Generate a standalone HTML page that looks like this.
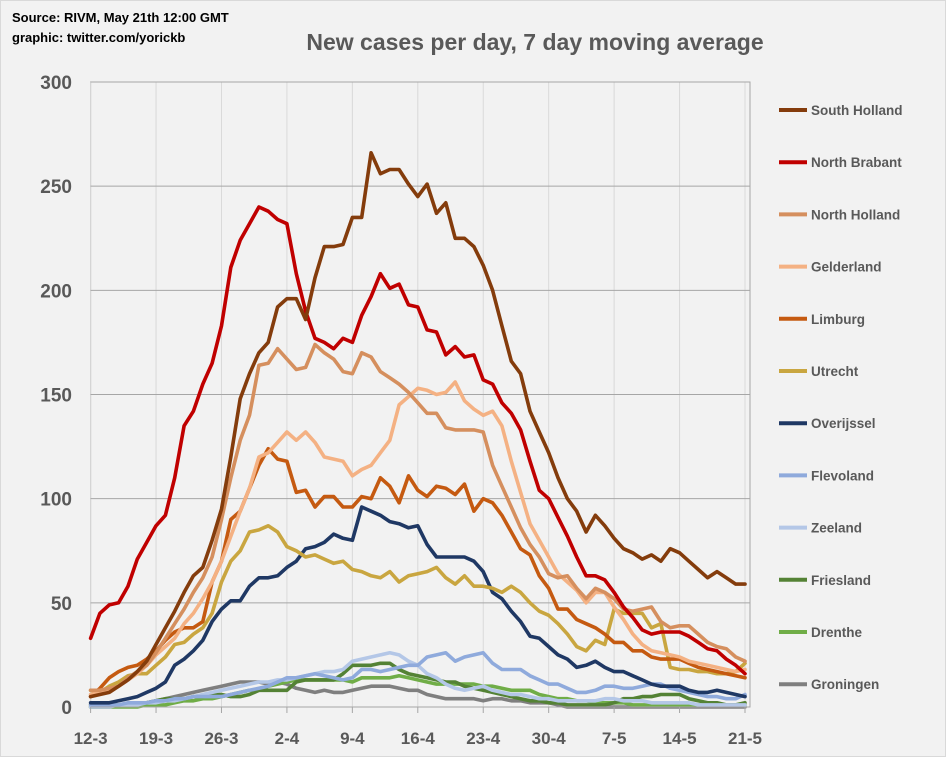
<!DOCTYPE html>
<html><head><meta charset="utf-8"><style>
html,body{margin:0;padding:0;background:#f2f2f2;}
svg{display:block;font-family:"Liberation Sans",sans-serif;}
</style></head><body>
<svg id="chart" width="946" height="757" viewBox="0 0 946 757">
<rect x="0.5" y="0.5" width="945" height="756" fill="#f2f2f2" stroke="#d9d9d9"/>
<text x="12" y="22" font-size="13" font-weight="bold" fill="#000">Source: RIVM, May 21th 12:00  GMT</text>
<text x="12" y="42" font-size="13" font-weight="bold" fill="#000">graphic: twitter.com/yorickb</text>
<text x="535" y="50" font-size="23" font-weight="bold" fill="#595959" text-anchor="middle">New cases per day, 7 day moving average</text>
<g id="grid"></g><g id="series"></g><g id="axes"></g><g id="legend"></g>
</svg>
<script>
const dates=["12-3","19-3","26-3","2-4","9-4","16-4","23-4","30-4","7-5","14-5","21-5"];
const yTicks=[0,50,100,150,200,250,300];
const names=["South Holland","North Brabant","North Holland","Gelderland","Limburg","Utrecht","Overijssel","Flevoland","Zeeland","Friesland","Drenthe","Groningen"];
const colors=["#843c0c","#c00000","#d58f5e","#f4b183","#c55a11","#c9a640","#1f3864","#8faadc","#b4c7e7","#548235","#70ad47","#7f7f7f"];
const southHolland=[5,6,7,10,13,17,22,30,38,46,55,63,67,80,95,120,148,160,170,175,192,196,196,186,206,221,221,222,235,235,266,256,258,258,251,245,251,237,242,225,225,221,212,200,183,166,160,142,132,122,110,100,94,84,92,87,81,76,74,71,73,70,76,74,70,66,62,65,62,59,59];
const northBrabant=[33,45,49,50,58,71,79,87,92,110,135,142,155,165,183,211,224,232,240,238,234,232,208,190,177,175,172,177,175,188,197,208,201,203,193,192,181,180,169,173,168,169,157,155,146,141,133,118,104,100,91,82,72,63,63,61,55,48,43,37,35,36,36,36,34,31,28,27,23,20,16];
const northHolland=[8,8,9,10,14,17,20,26,33,40,47,55,62,72,90,110,128,140,164,165,172,167,162,163,174,170,167,161,160,170,168,161,158,155,151,146,141,141,134,133,133,133,132,116,106,96,86,78,72,64,62,63,57,52,57,55,52,47,46,47,48,41,38,39,39,35,31,29,28,24,22];
const gelderland=[6,7,8,10,13,16,20,25,29,33,40,45,52,60,70,82,94,105,120,122,127,132,128,132,127,120,119,118,111,114,116,122,128,145,149,153,152,150,151,156,147,143,140,142,135,118,103,88,80,72,64,60,56,50,55,55,48,42,35,30,27,26,25,24,22,21,20,19,18,17,18];
const limburg=[5,9,14,17,19,20,23,27,32,36,38,38,41,60,70,90,94,105,116,124,119,118,103,104,96,101,101,96,96,101,100,110,106,98,111,104,101,106,105,102,107,94,100,98,92,84,76,73,63,57,47,47,42,40,38,35,31,31,27,27,24,23,23,23,21,19,18,17,16,15,14];
const utrecht=[8,7,10,12,15,16,16,20,24,30,31,35,38,45,60,70,75,84,85,87,84,77,75,72,73,71,69,70,66,65,63,62,65,60,63,64,65,67,62,59,63,58,58,57,55,58,55,50,46,44,40,35,29,27,32,30,47,45,45,45,38,40,19,18,18,17,17,16,16,17,21];
const overijssel=[2,2,2,3,4,5,7,9,12,20,23,27,32,41,47,51,51,58,62,62,63,67,70,76,77,79,83,81,80,96,94,92,89,88,86,87,78,72,72,72,72,70,65,55,52,46,41,34,33,29,25,23,19,20,22,19,17,17,15,13,11,10,10,10,8,7,7,8,7,6,5];
const flevoland=[1,1,1,1,2,2,2,3,3,4,4,5,5,5,5,6,7,8,9,10,12,14,14,15,16,15,14,13,14,18,18,17,18,19,20,20,24,25,26,22,24,25,26,21,18,18,18,15,13,11,11,9,7,7,8,10,10,9,9,10,11,11,9,8,7,6,5,5,4,4,6];
const zeeland=[0,0,0,1,1,1,2,2,3,3,4,5,6,7,8,9,10,11,12,12,13,13,14,15,16,17,17,18,22,23,24,25,26,25,22,20,16,14,11,9,8,9,10,8,7,6,6,5,4,4,3,3,3,3,3,4,4,3,3,3,2,2,2,2,2,1,1,1,1,1,1];
const friesland=[1,1,1,1,1,2,2,3,4,4,4,5,5,6,6,5,5,6,8,8,8,8,12,13,13,13,13,16,20,20,20,21,21,18,16,15,14,13,12,12,10,9,8,7,6,5,4,3,3,2,2,1,1,1,1,1,2,4,4,5,5,6,6,6,4,3,2,2,1,1,2];
const drenthe=[0,0,0,0,0,0,1,1,1,2,3,3,4,4,5,6,7,8,8,10,11,12,13,13,13,13,13,13,12,14,14,14,14,15,14,13,12,11,11,11,11,11,10,10,9,8,8,8,6,5,4,4,3,3,2,2,2,2,1,1,1,1,1,1,1,1,1,1,1,1,1];
const groningen=[0,0,0,1,1,2,2,3,4,5,6,7,8,9,10,11,12,12,12,11,12,11,9,8,7,8,7,7,8,9,10,10,10,9,8,8,6,5,4,4,4,4,3,4,4,3,3,2,2,2,1,0,0,0,0,0,0,0,0,0,0,0,0,0,0,0,0,0,0,0,0];
const seriesData=[southHolland,northBrabant,northHolland,gelderland,limburg,utrecht,overijssel,flevoland,zeeland,friesland,drenthe,groningen];

const NS="http://www.w3.org/2000/svg";
const X0=90.6,X1=745,XR=750,Y0=707,YT=82,NDAYS=70,YMAX=300;
const xs=d=>X0+(X1-X0)*d/NDAYS;
const ys=v=>Y0-(Y0-YT)*v/YMAX;
function mk(tag,attrs,parent){const e=document.createElementNS(NS,tag);for(const k in attrs)e.setAttribute(k,attrs[k]);parent.appendChild(e);return e;}
const grid=document.getElementById('grid'),axes=document.getElementById('axes'),ser=document.getElementById('series'),leg=document.getElementById('legend');
mk('rect',{x:X0,y:YT,width:XR-X0,height:Y0-YT,fill:'#f2f2f2',stroke:'#a6a6a6'},grid);
dates.forEach((t,i)=>{const x=xs(i*7);
 const g=mk('line',{x1:x,x2:x,y1:YT,y2:Y0,stroke:'#d9d9d9','stroke-width':1},grid);
 
 
 const tk=mk('line',{x1:x,x2:x,y1:Y0,y2:Y0+6,stroke:'#a6a6a6'},axes);
 
 
 const tx=mk('text',{x:x,y:744,'font-size':17,'font-weight':'bold',fill:'#595959','text-anchor':'middle'},axes);
 tx.textContent=t;
 
 
});
yTicks.forEach(v=>{const y=ys(v);
 const g=mk('line',{x1:X0,x2:XR,y1:y,y2:y,stroke:'#a6a6a6','stroke-width':1},grid);
 
 
 const tx=mk('text',{x:72,y:y+7,'font-size':19,'font-weight':'bold',fill:'#595959','text-anchor':'end'},axes);
 tx.textContent=v;
 
 
});
mk('line',{x1:X0,x2:XR,y1:Y0,y2:Y0,stroke:'#a6a6a6'},axes);
for(let i=seriesData.length-1;i>=0;i--){
 const pts=seriesData[i].map((v,d)=>xs(d).toFixed(1)+','+ys(v).toFixed(1)).join(' ');
 const p=mk('polyline',{points:pts,fill:'none',stroke:colors[i],'stroke-width':3.6,'stroke-linejoin':'round','stroke-linecap':'round'},ser);
 
 
}
names.forEach((n,i)=>{const y=110+52.2*i;
 const g=mk('g',{},leg);
 
 
 mk('line',{x1:779,x2:807,y1:y,y2:y,stroke:colors[i],'stroke-width':4},g);
 const t=mk('text',{x:811,y:y+5,'font-size':13.5,'font-weight':'bold',fill:'#595959'},g);
 t.textContent=n;
});
</script>
</body></html>
